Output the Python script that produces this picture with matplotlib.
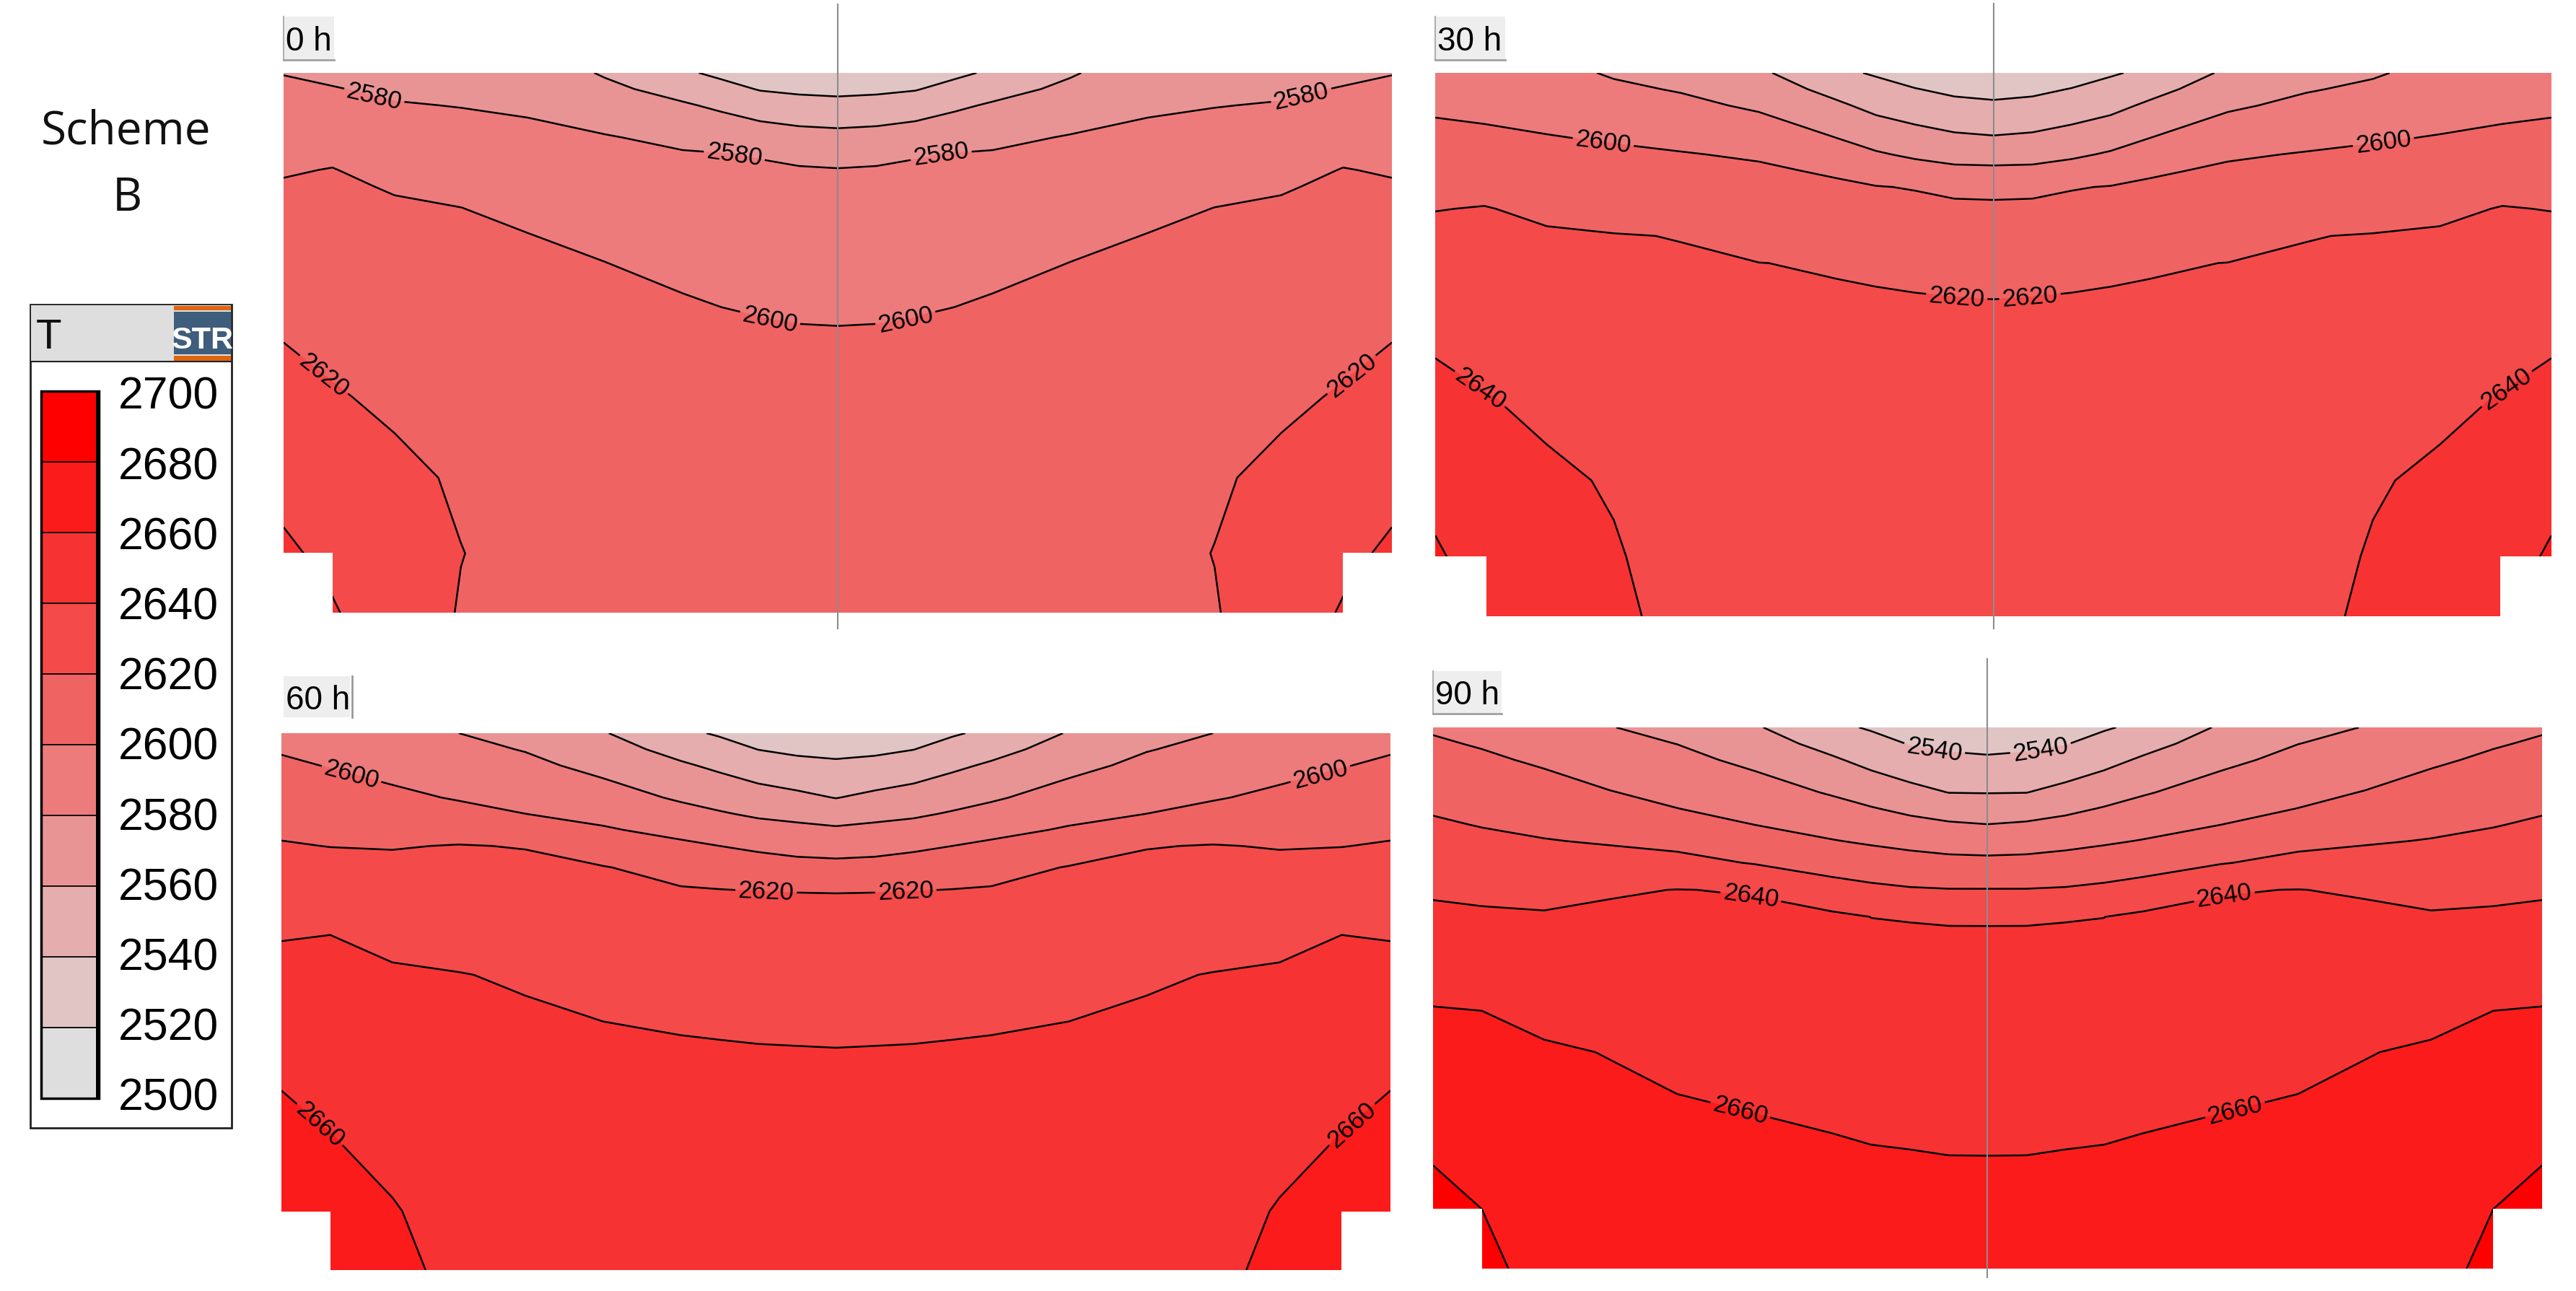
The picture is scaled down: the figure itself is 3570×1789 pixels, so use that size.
import numpy as np
import matplotlib
matplotlib.use("Agg")
import matplotlib.pyplot as plt
from matplotlib.patches import Rectangle
from matplotlib.lines import Line2D

# ---------------- data ----------------
levels = [2500, 2520, 2540, 2560, 2580, 2600, 2620, 2640, 2660, 2680, 2700]
band_colors = ["#DEDEDE", "#E1C5C5", "#E5ADAD", "#E99494", "#ED7B7B",
               "#F06363", "#F44A4A", "#F73232", "#FB1B1B", "#FF0000"]
legend_labels = ["2700", "2680", "2660", "2640", "2620", "2600",
                 "2580", "2560", "2540", "2520", "2500"]
panel_titles = ["0 h", "30 h", "60 h", "90 h"]

# sampling positions across the half width (0 = left edge, 0.5 = symmetry axis)
col_u = [0.0, 0.044, 0.10, 0.16, 0.22, 0.29, 0.36, 0.395, 0.43, 0.465, 0.50]
# sampling positions over the height (0 = bottom, 1 = top)
row_v = [0.0, 0.11, 0.25, 0.40, 0.55, 0.65, 0.70, 0.75, 0.79, 0.82, 0.85, 0.88, 0.94, 0.97, 1.0]

# temperatures, one list per column (bottom -> top), left half of each section
t_0h = [
    [2649, 2642.8, 2634.7, 2626.1, 2617.0, 2610.5, 2607.2, 2603.9, 2601.3, 2598.8, 2595.6, 2592.4, 2586.1, 2582.9, 2579.5],
    [2641.5, 2636.0, 2628.9, 2621.4, 2613.9, 2608.9, 2606.5, 2604.0, 2602.0, 2600.5, 2597.3, 2593.2, 2584.9, 2580.8, 2576.7],
    [2629.7, 2628.5, 2623.7, 2617.0, 2610.3, 2605.9, 2603.6, 2601.4, 2599.0, 2595.4, 2591.8, 2588.2, 2581.0, 2577.3, 2573.7],
    [2619.0, 2620.3, 2618.1, 2612.4, 2607.4, 2603.8, 2601.9, 2600.1, 2595.8, 2592.6, 2589.3, 2586.0, 2579.5, 2576.2, 2572.9],
    [2618.5, 2615.6, 2612.0, 2608.1, 2604.2, 2601.6, 2600.3, 2596.2, 2592.3, 2589.4, 2586.5, 2583.6, 2577.8, 2574.9, 2571.9],
    [2617.0, 2614.1, 2610.5, 2606.5, 2602.6, 2600.0, 2595.9, 2591.8, 2588.5, 2586.1, 2583.6, 2581.1, 2570.5, 2564.3, 2558.1],
    [2615.5, 2612.6, 2609.0, 2605.0, 2603.0, 2595.8, 2592.1, 2588.4, 2585.5, 2583.3, 2581.1, 2576.4, 2562.1, 2553.0, 2543.0],
    [2615.0, 2612.1, 2608.4, 2604.4, 2601.1, 2594.2, 2590.8, 2587.3, 2584.6, 2582.5, 2580.4, 2573.5, 2556.6, 2546.2, 2535.9],
    [2614.5, 2611.6, 2607.9, 2603.9, 2599.9, 2593.2, 2589.8, 2586.5, 2583.8, 2581.8, 2579.1, 2570.1, 2550.2, 2538.9, 2530.0],
    [2614.2, 2611.3, 2607.6, 2603.6, 2599.6, 2592.4, 2589.1, 2585.8, 2583.2, 2581.2, 2576.4, 2567.3, 2546.7, 2536.6, 2528.0],
    [2614.0, 2611.1, 2607.4, 2603.5, 2599.5, 2592.0, 2588.7, 2585.4, 2582.7, 2580.7, 2574.4, 2565.9, 2545.6, 2535.3, 2526.0],
]
t_30h = [
    [2669, 2662.3, 2654.0, 2645.0, 2635.0, 2627.4, 2623.6, 2619.6, 2615.0, 2611.5, 2608.0, 2604.4, 2597.4, 2593.9, 2590.4],
    [2657, 2652.5, 2646.9, 2640.8, 2632.3, 2626.5, 2623.6, 2620.6, 2616.0, 2611.9, 2607.7, 2603.6, 2595.3, 2591.2, 2587.0],
    [2650.3, 2646.9, 2642.6, 2636.7, 2629.1, 2624.0, 2621.5, 2617.3, 2612.3, 2608.5, 2604.7, 2600.9, 2593.3, 2589.5, 2585.7],
    [2641.8, 2641.2, 2638.7, 2632.6, 2626.6, 2622.5, 2620.5, 2615.3, 2610.3, 2606.5, 2602.8, 2598.6, 2588.4, 2583.2, 2578.1],
    [2637.5, 2634.7, 2631.1, 2627.3, 2623.5, 2621.0, 2619.7, 2612.7, 2608.0, 2604.5, 2600.9, 2595.8, 2584.4, 2578.7, 2573.0],
    [2636.0, 2633.3, 2629.9, 2626.2, 2622.6, 2620.1, 2615.3, 2609.9, 2605.6, 2602.4, 2598.1, 2591.2, 2577.2, 2570.3, 2563.3],
    [2634.5, 2631.9, 2628.6, 2625.1, 2621.7, 2619.3, 2611.8, 2606.6, 2602.4, 2597.9, 2589.0, 2580.0, 2563.1, 2553.8, 2544.0],
    [2633.8, 2631.3, 2628.1, 2624.7, 2621.3, 2619.0, 2610.2, 2604.9, 2600.6, 2592.0, 2582.0, 2572.6, 2554.7, 2546.4, 2538.0],
    [2633.0, 2630.6, 2627.5, 2624.3, 2621.0, 2618.8, 2609.1, 2603.9, 2599.2, 2587.7, 2576.9, 2567.5, 2549.4, 2540.6, 2531.8],
    [2632.7, 2630.3, 2627.3, 2624.1, 2620.8, 2618.7, 2608.4, 2603.2, 2596.3, 2584.1, 2573.3, 2563.3, 2544.6, 2536.3, 2529.0],
    [2632.5, 2630.1, 2627.1, 2623.9, 2620.7, 2618.6, 2608.1, 2603.0, 2595.6, 2583.6, 2572.4, 2561.5, 2542.8, 2534.6, 2527.0],
]
t_60h = [
    [2675, 2671, 2665, 2656.1, 2645.2, 2636.9, 2631.3, 2625.7, 2621.2, 2617.6, 2613.8, 2610.1, 2602.5, 2598.7, 2595.0],
    [2668, 2665, 2660.3, 2652.4, 2644.6, 2638.4, 2631.7, 2625.1, 2619.7, 2615.6, 2611.6, 2607.5, 2599.3, 2595.2, 2591.2],
    [2663, 2661.1, 2655.0, 2648.4, 2641.8, 2634.0, 2628.8, 2623.6, 2619.2, 2614.1, 2609.1, 2604.0, 2593.9, 2588.9, 2583.9],
    [2657, 2653.7, 2649.4, 2644.9, 2640.4, 2632.5, 2628.3, 2624.0, 2620.6, 2613.8, 2605.7, 2598.6, 2589.3, 2584.7, 2580.0],
    [2656, 2652.7, 2648.5, 2644.0, 2638.6, 2630.8, 2626.9, 2623.0, 2619.4, 2609.7, 2600.0, 2594.8, 2584.3, 2579.1, 2573.9],
    [2655, 2651.7, 2647.5, 2642.9, 2636.0, 2628.4, 2624.5, 2620.7, 2610.7, 2601.8, 2594.7, 2588.0, 2574.7, 2568.0, 2561.3],
    [2654.5, 2651.1, 2646.7, 2642.1, 2633.7, 2626.1, 2622.3, 2614.6, 2603.4, 2594.8, 2586.1, 2577.7, 2562.5, 2553.6, 2544.0],
    [2654.2, 2650.8, 2646.4, 2641.7, 2632.9, 2625.5, 2621.8, 2612.3, 2600.0, 2590.8, 2581.5, 2573.2, 2556.3, 2547.1, 2538.0],
    [2654.0, 2650.5, 2646.0, 2641.3, 2632.1, 2624.9, 2621.4, 2609.5, 2596.2, 2586.7, 2577.3, 2568.2, 2549.4, 2539.7, 2530.0],
    [2653.7, 2650.2, 2645.8, 2641.1, 2631.7, 2624.5, 2620.9, 2606.5, 2593.4, 2584.5, 2574.7, 2564.2, 2545.2, 2536.5, 2528.5],
    [2653.5, 2650.0, 2645.6, 2640.9, 2631.3, 2624.1, 2620.5, 2605.4, 2592.3, 2582.6, 2571.2, 2559.5, 2543.2, 2535.1, 2527.0],
]
t_90h = [
    [2686, 2683, 2677.8, 2667.1, 2654.5, 2643.6, 2637.8, 2631.3, 2626.1, 2622.2, 2618.3, 2614.2, 2606.2, 2602.1, 2598.1],
    [2683, 2680.0, 2673.0, 2665.4, 2654.8, 2642.6, 2636.0, 2629.0, 2623.5, 2619.3, 2615.2, 2611.0, 2602.8, 2598.6, 2594.5],
    [2676, 2672.1, 2667.1, 2661.7, 2650.7, 2641.6, 2634.8, 2627.0, 2620.8, 2616.1, 2611.5, 2606.8, 2597.5, 2592.9, 2588.2],
    [2673, 2669.4, 2664.7, 2659.5, 2649.1, 2642.3, 2638.8, 2626.5, 2618.4, 2612.5, 2606.5, 2600.6, 2590.3, 2585.1, 2580.5],
    [2672, 2668.1, 2663.2, 2656.6, 2648.4, 2642.9, 2640.2, 2625.5, 2614.7, 2607.5, 2600.2, 2595.1, 2584.9, 2579.8, 2574.7],
    [2671, 2666.9, 2661.7, 2654.7, 2647.0, 2641.9, 2639.4, 2618.9, 2608.1, 2600.0, 2594.1, 2588.1, 2575.8, 2568.8, 2562.0],
    [2670, 2665.6, 2660.0, 2652.7, 2645.4, 2643.2, 2627.1, 2612.1, 2600.8, 2593.3, 2585.9, 2578.4, 2562.4, 2553.4, 2544.0],
    [2669.7, 2665.1, 2659.1, 2651.9, 2644.7, 2639.9, 2623.8, 2609.1, 2597.8, 2589.4, 2581.1, 2572.0, 2554.3, 2546.2, 2538.2],
    [2669.5, 2664.8, 2658.7, 2651.5, 2644.3, 2639.5, 2621.5, 2606.8, 2594.8, 2585.5, 2575.9, 2565.5, 2547.6, 2539.2, 2530.7],
    [2669.2, 2664.4, 2658.2, 2651.1, 2644.0, 2639.2, 2620.6, 2605.0, 2592.1, 2582.3, 2571.2, 2559.7, 2543.9, 2536.2, 2528.5],
    [2669.0, 2664.3, 2658.2, 2651.0, 2643.9, 2639.2, 2620.6, 2604.5, 2590.9, 2580.4, 2569.8, 2559.4, 2542.5, 2534.6, 2527.0],
]
panel_fields = [t_0h, t_30h, t_60h, t_90h]

# contour-label anchor points (fractions of each section)
labels_0h = [(0.081, 0.951), (0.407, 0.851), (0.593, 0.851), (0.919, 0.951),
             (0.438, 0.535), (0.562, 0.535), (0.034, 0.435), (0.966, 0.435)]
labels_30h = [(0.150, 0.864), (0.850, 0.864), (0.467, 0.581), (0.533, 0.581),
              (0.039, 0.415), (0.961, 0.415)]
labels_60h = [(0.062, 0.915), (0.938, 0.915), (0.437, 0.704), (0.563, 0.704),
              (0.033, 0.267), (0.967, 0.267)]
labels_90h = [(0.451, 0.946), (0.549, 0.946), (0.286, 0.677), (0.714, 0.677),
              (0.277, 0.294), (0.723, 0.294)]
panel_labels = [labels_0h, labels_30h, labels_60h, labels_90h]

# ---------------- layout (pixels) ----------------
W, H, DPI = 3570, 1790, 100
panel_rects = [(393, 102, 1929, 850), (1989, 102, 3536, 855),
               (390, 1017, 1927, 1761), (1986, 1009, 3523, 1759)]
notch = [(0.044, 0.111), (0.046, 0.110), (0.044, 0.109), (0.044, 0.111)]
center_lines = [(1161, 7, 872), (2763, 6, 872), None, (2754, 914, 1771)]
title_boxes = [(393, 24, 463, 84), (1989, 24, 2086, 84),
               (393, 938, 485, 995), (1986, 931, 2081, 990)]
title_base = [70, 70, 983, 976]

plt.rcParams['font.family'] = ['Liberation Sans', 'DejaVu Sans']

fig = plt.figure(figsize=(W / DPI, H / DPI), dpi=DPI)
fig.patch.set_facecolor('white')


def fx(x):
    return x / W


def fy(y):
    return 1 - y / H


def full_grid(half_cols):
    half = np.array(half_cols, dtype=float).T
    Z = np.hstack([half, half[:, -2::-1]])
    u = np.array(col_u)
    uf = np.concatenate([u, 1 - u[-2::-1]])
    return uf, np.array(row_v), Z


for i in range(4):
    l, t, r, b = panel_rects[i]
    ax = fig.add_axes([fx(l), fy(b), (r - l) / W, (b - t) / H])
    uf, vf, Z = full_grid(panel_fields[i])
    ax.contourf(uf, vf, Z, levels=levels, colors=band_colors, antialiased=False)
    cs = ax.contour(uf, vf, Z, levels=levels, colors='black', linewidths=1.8)
    ax.clabel(cs, levels=levels, manual=panel_labels[i], inline=True, inline_spacing=4,
              fontsize=25, fmt='%d', colors='black')
    nw, nh = notch[i]
    ax.add_patch(Rectangle((0, 0), nw, nh, facecolor='white', edgecolor='none', zorder=10))
    ax.add_patch(Rectangle((1 - nw, 0), nw, nh, facecolor='white', edgecolor='none', zorder=10))
    ax.set_xlim(0, 1)
    ax.set_ylim(0, 1)
    ax.axis('off')

    # title box
    x0, y0, x1, y1 = title_boxes[i]
    fig.add_artist(Rectangle((fx(x0), fy(y1)), (x1 - x0) / W, (y1 - y0) / H,
                             transform=fig.transFigure, facecolor='#eeeeee', edgecolor='none'))
    if i == 2:
        fig.add_artist(Line2D([fx(x1 + 3)] * 2, [fy(y0), fy(y1)], color='#9a9a9a', lw=2))
    else:
        fig.add_artist(Line2D([fx(x0), fx(x0)], [fy(y0), fy(y1)], color='#b0b0b0', lw=1.5))
        fig.add_artist(Line2D([fx(x0), fx(x1)], [fy(y1), fy(y1)], color='#a0a0a0', lw=2))
    fig.text(fx(x0 + 3), fy(title_base[i]), panel_titles[i], fontsize=33,
             ha='left', va='baseline', color='black')

    if center_lines[i] is not None:
        cx, cy0, cy1 = center_lines[i]
        fig.add_artist(Line2D([fx(cx)] * 2, [fy(cy0), fy(cy1)], color='#8c8c8c', lw=1.5, zorder=20))

# ---------------- scheme title ----------------
fig.text(fx(174), fy(200), "Scheme", fontsize=46, family=['Open Sans', 'DejaVu Sans'],
         ha='center', va='baseline', color='#111111')
fig.text(fx(176), fy(292), "B", fontsize=46, family=['Open Sans', 'DejaVu Sans'],
         ha='center', va='baseline', color='#111111')

# ---------------- legend ----------------
fig.add_artist(Rectangle((fx(42), fy(1564)), 279 / W, 1141 / H, transform=fig.transFigure,
                         facecolor='white', edgecolor='#222222', lw=2))
fig.add_artist(Rectangle((fx(43), fy(502)), 277 / W, 78 / H, transform=fig.transFigure,
                         facecolor='#dedede', edgecolor='none'))
fig.add_artist(Line2D([fx(43), fx(320)], [fy(502), fy(502)], color='#222222', lw=1.5))
fig.text(fx(50), fy(483), "T", fontsize=42, ha='left', va='baseline', color='#111111')
# STR logo
fig.add_artist(Rectangle((fx(241), fy(431)), 79 / W, 6 / H, transform=fig.transFigure,
                         facecolor='#e0650f', edgecolor='none'))
fig.add_artist(Rectangle((fx(241), fy(492)), 79 / W, 59 / H, transform=fig.transFigure,
                         facecolor='#3f5d7c', edgecolor='none'))
fig.add_artist(Rectangle((fx(241), fy(501)), 79 / W, 7 / H, transform=fig.transFigure,
                         facecolor='#e0650f', edgecolor='none'))
fig.text(fx(281), fy(483), "STR", fontsize=31, fontweight='bold',
         family=['Liberation Sans Narrow', 'Liberation Sans'],
         ha='center', va='baseline', color='white')

bar_top, bar_bot, bar_l, bar_r = 543, 1523, 57, 137
n = len(band_colors)
step = (bar_bot - bar_top) / n
for k in range(n):
    ytop = bar_top + k * step
    fig.add_artist(Rectangle((fx(bar_l), fy(ytop + step)), (bar_r - bar_l) / W, step / H,
                             transform=fig.transFigure, facecolor=band_colors[n - 1 - k],
                             edgecolor='black', lw=1.2))
fig.add_artist(Rectangle((fx(bar_l), fy(bar_bot)), (bar_r - bar_l) / W, (bar_bot - bar_top) / H,
                         transform=fig.transFigure, facecolor='none', edgecolor='black', lw=2.5))
fig.add_artist(Rectangle((fx(bar_r - 4), fy(bar_bot + 1)), 5 / W, (bar_bot - bar_top + 2) / H,
                         transform=fig.transFigure, facecolor='black', edgecolor='none'))
for k, lab in enumerate(legend_labels):
    fig.text(fx(164), fy(567 + k * 97.2), lab, fontsize=45, ha='left', va='baseline',
             color='black')

fig.savefig("out.png", dpi=DPI, facecolor='white')
